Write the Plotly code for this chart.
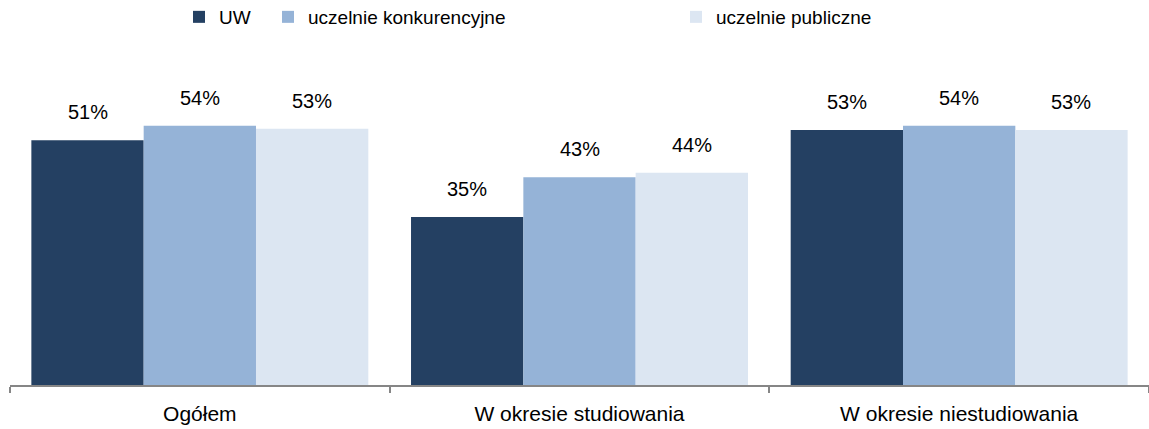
import plotly.graph_objects as go

categories = ["Ogółem", "W okresie studiowania", "W okresie niestudiowania"]
series_names = ["UW", "uczelnie konkurencyjne", "uczelnie publiczne"]
uw_values = [51.0, 35.0, 53.1]
konk_values = [54.0, 43.3, 54.0]
publ_values = [53.4, 44.2, 53.1]
colors = ["#244062", "#95B3D7", "#DCE6F2"]

all_values = [uw_values, konk_values, publ_values]
BARGAP = 0.1125
W, H = 1149, 429
FONT = "Liberation Sans, Arial, sans-serif"

fig = go.Figure()
legend_ids = ["legend", "legend2", "legend3"]
for name, vals, col, lg in zip(series_names, all_values, colors, legend_ids):
    fig.add_trace(go.Bar(
        x=categories, y=vals, name=name,
        marker=dict(color=col, line=dict(width=0)),
        legend=lg, hoverinfo="skip",
    ))

# data labels above bars
n = len(series_names)
bw = (1 - BARGAP) / n
for j, vals in enumerate(all_values):
    for i, v in enumerate(vals):
        fig.add_annotation(
            x=i + (j - (n - 1) / 2) * bw, y=v, xref="x", yref="y",
            text=f"{round(v)}%", showarrow=False,
            yanchor="middle", yshift=28,
            font=dict(family=FONT, size=20, color="#000000"),
        )

legend_text_x = [219, 308, 716]
leg_common = dict(orientation="h", xref="container", yref="container",
                  xanchor="left", yanchor="middle", bgcolor="rgba(0,0,0,0)",
                  font=dict(family=FONT, size=19, color="#000000"))
layout_legends = {}
for lg, tx in zip(legend_ids, legend_text_x):
    layout_legends[lg] = dict(x=(tx - 40) / W, y=1 - 17 / H, **leg_common)

fig.update_layout(
    width=W, height=H,
    margin=dict(l=10, r=0, t=97, b=44),
    paper_bgcolor="white", plot_bgcolor="white",
    barmode="group", bargap=BARGAP, bargroupgap=0,
    showlegend=True,
    xaxis=dict(
        showline=True, linecolor="#868686", linewidth=2,
        ticks="outside", tickson="boundaries", ticklen=6, tickcolor="#868686", tickwidth=2,
        tickfont=dict(family=FONT, size=21, color="#000000"),
        ticklabelstandoff=9,
        showgrid=False, zeroline=False,
    ),
    yaxis=dict(range=[0, 60], visible=False, showgrid=False, zeroline=False),
    **layout_legends,
)

fig.write_html(
    "out.html",
    config={"displayModeBar": False},
    post_script="document.body.style.margin='0';document.body.style.overflow='hidden';",
)
